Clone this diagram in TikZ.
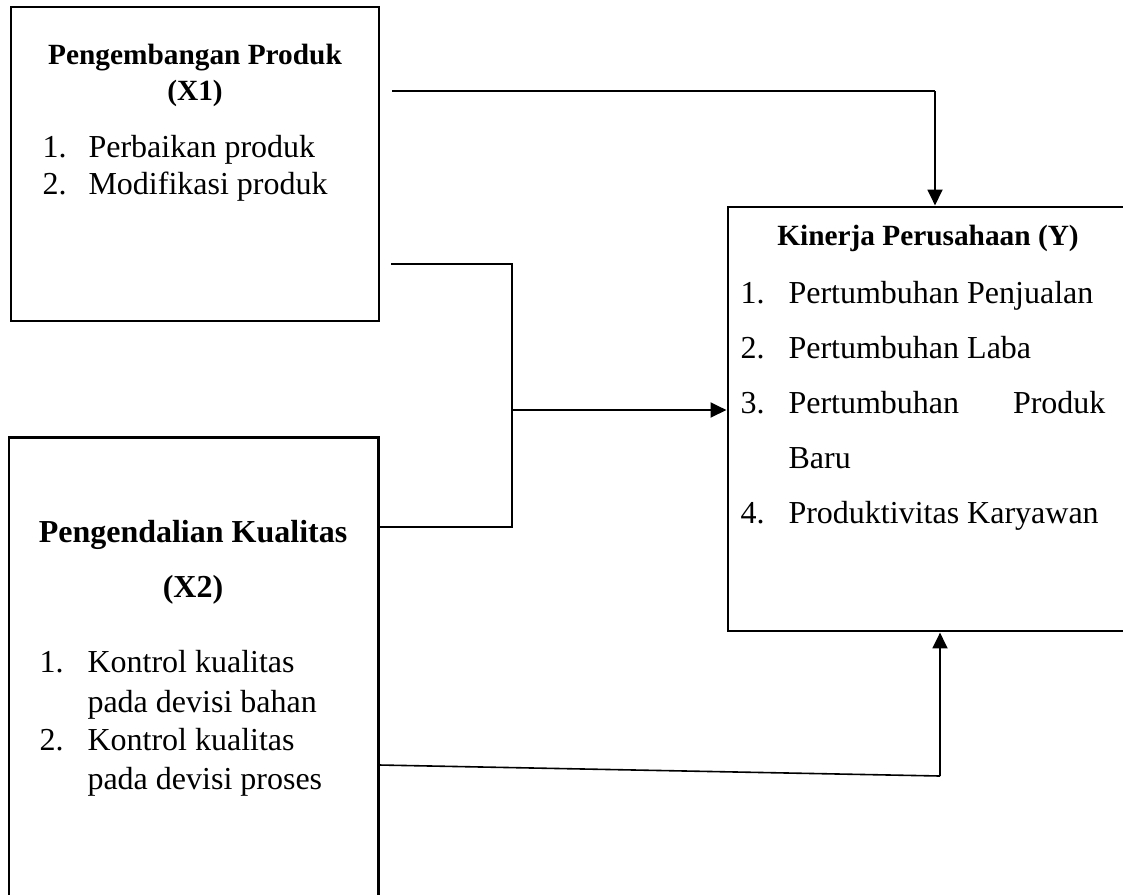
\documentclass[tikz,border=0pt]{standalone}
\usepackage{fontspec}
\setmainfont{Liberation Serif}
\usetikzlibrary{arrows.meta,positioning}
\tikzstyle{box} = [rectangle, draw=black, line width=1.1pt, inner sep=0pt]
\tikzstyle{judul} = [inner sep=0pt, anchor=base, font=\fontsize{11}{13}\selectfont\bfseries]
\tikzstyle{judulbesar} = [inner sep=0pt, anchor=base, font=\fontsize{12}{14}\selectfont\bfseries]
\tikzstyle{item} = [inner sep=0pt, anchor=base west, font=\fontsize{12}{14}\selectfont]
\tikzstyle{link} = [line width=0.6pt]
\tikzstyle{arrow} = [line width=1.1pt,-{Triangle[length=6pt,width=5.5pt]}]

\begin{document}
\begin{tikzpicture}[x=0.375pt,y=-0.375pt]
	\useasboundingbox (0,0) rectangle (1123,894);
	\clip (0,0) rectangle (1123,894);

	\node (x1) [box, minimum width=138pt, minimum height=117.75pt] at (195,164) {};
	\node (x2) [box, minimum width=138.4pt, minimum height=196pt] at (193.5,698.5) {};
	\node (kinerja) [box, minimum width=154.5pt, minimum height=159pt] at (934,419) {};

	\node (x1judul) [judul] at (195,64) {Pengembangan Produk};
	\node (x1kode) [judul] at (195,100) {(X1)};
	\node (x1no1) [item] at (42,157) {1.};
	\node (x1ind1) [item] at (88,157) {Perbaikan produk};
	\node (x1no2) [item] at (42,194) {2.};
	\node (x1ind2) [item] at (88,194) {Modifikasi produk};

	\node (x2judul) [judulbesar] at (193,542) {Pengendalian Kualitas};
	\node (x2kode) [judulbesar] at (193,597) {(X2)};
	\node (x2no1) [item] at (39,672) {1.};
	\node (x2ind1) [item] at (87,672) {Kontrol kualitas};
	\node (x2ind1b) [item] at (87,712) {pada devisi bahan};
	\node (x2no2) [item] at (39,750) {2.};
	\node (x2ind2) [item] at (87,750) {Kontrol kualitas};
	\node (x2ind2b) [item] at (87,789) {pada devisi proses};

	\node (yjudul) [judul] at (928,245) {Kinerja Perusahaan (Y)};
	\node (yno1) [item] at (740,303) {1.};
	\node (yind1) [item] at (788,303) {Pertumbuhan Penjualan};
	\node (yno2) [item] at (740,358) {2.};
	\node (yind2) [item] at (788,358) {Pertumbuhan Laba};
	\node (yno3) [item] at (740,413) {3.};
	\node (yind3) [item] at (788,413) {Pertumbuhan};
	\node (yind3b) [item, anchor=base east] at (1106,413) {Produk};
	\node (yind3c) [item] at (788,468) {Baru};
	\node (yno4) [item] at (740,523) {4.};
	\node (yind4) [item] at (788,523) {Produktivitas Karyawan};

	% X1 ke Y
	\coordinate (a1) at (392,91);
	\coordinate (a2) at (935,91);
	\draw [link] (a1) -- (a2);
	\draw [arrow] (a2) -- (a2 |- kinerja.north);

	% X1 dan X2 bersama ke Y
	\coordinate (b1) at (391,264);
	\coordinate (b2) at (512,264);
	\coordinate (b3) at (512,527);
	\coordinate (b4) at (512,410);
	\draw [link] (b1) -- (b2) -- (b3) -- (b3 -| x2.east);
	\draw [arrow] (b4) -- (b4 -| kinerja.west);

	% X2 ke Y
	\coordinate (c1) at (378,765);
	\coordinate (c2) at (940,776);
	\draw [link] (c1 -| x2.east) -- (c2);
	\draw [arrow] (c2) -- (c2 |- kinerja.south);
\end{tikzpicture}
\end{document}
